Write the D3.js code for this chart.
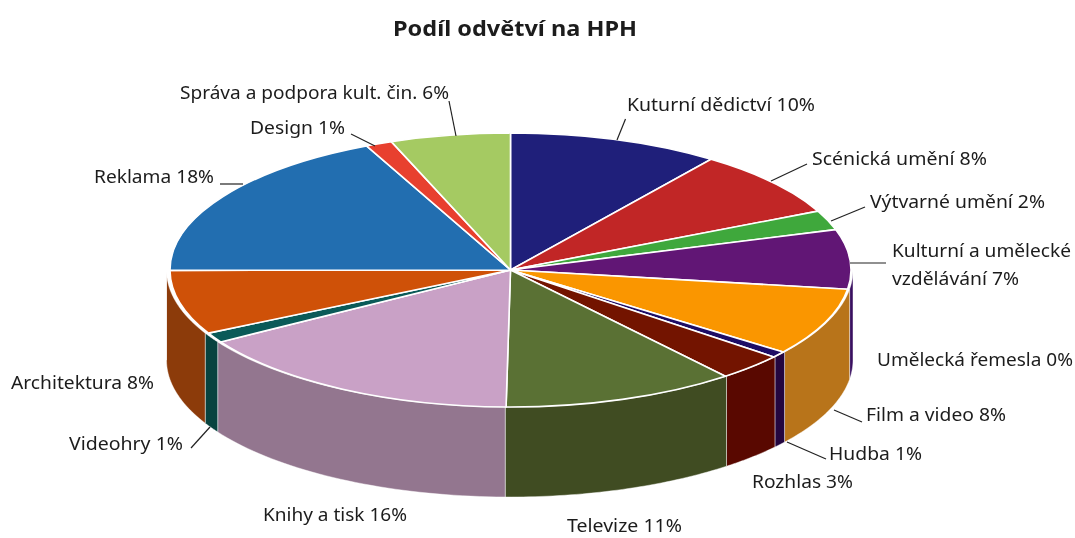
<!DOCTYPE html>
<html><head><meta charset="utf-8">
<script src="https://cdn.jsdelivr.net/npm/d3@7"></script>
<style>html,body{margin:0;background:#fff}svg{display:block;filter:blur(.45px)}text{font-family:"Noto Sans",sans-serif;fill:#1c1c1c}</style>
</head><body><svg id="c" width="1075" height="538"></svg>
<script>
const categories=["Kuturní dědictví","Scénická umění","Výtvarné umění","Kulturní a umělecké vzdělávání","Umělecká řemesla","Film a video","Hudba","Rozhlas","Televize","Knihy a tisk","Videohry","Architektura","Reklama","Design","Správa a podpora kult. čin."];
const shares=[10,7.89,2.31,7,0,7.97,0.72,3.17,11.07,15.96,1.17,7.58,18.06,1.25,5.69];
const topColors=["#1f1f7a","#c12626","#3fa83c","#611675","#fa9600","#fa9600","#1d0d66","#731400","#5a7134","#c9a1c6","#0a5a58","#cf5108","#226eb0","#e8402f","#a5ca62"];
const wallColors=["#14145a","#8a1a1a","#2a7a2a","#3a1060","#b8741a","#b8741a","#24063f","#590800","#404c22","#93768f","#08433f","#8c3b0a","#174c7c","#a02a20","#748e44"];
const titleText="Podíl odvětví na HPH";
const labelLines=[
 {t:"Kuturní dědictví 10%",x:627,y:111,w:188},
 {t:"Scénická umění 8%",x:812,y:165,w:175},
 {t:"Výtvarné umění 2%",x:870,y:208,w:175},
 {t:"Kulturní a umělecké",x:892,y:257,w:179},
 {t:"vzdělávání 7%",x:892,y:285,w:127},
 {t:"Umělecká řemesla 0%",x:877,y:366,w:196},
 {t:"Film a video 8%",x:866,y:421,w:140},
 {t:"Hudba 1%",x:829,y:460,w:93},
 {t:"Rozhlas 3%",x:752,y:488,w:101},
 {t:"Televize 11%",x:567,y:532,w:115},
 {t:"Knihy a tisk 16%",x:263,y:521,w:144},
 {t:"Videohry 1%",x:69,y:450,w:114},
 {t:"Architektura 8%",x:11,y:389,w:143},
 {t:"Reklama 18%",x:94,y:183,w:120},
 {t:"Design 1%",x:250,y:134,w:95},
 {t:"Správa a podpora kult. čin. 6%",x:180,y:99,w:269}
];
const leaders=[
 [[625.5,119],[617,140]],[[807,164],[771,181]],[[865,207],[831,221]],[[886,263],[850,263]],
 [[862,422],[834,410]],[[826,459],[787,442]],[[191,448],[210,427]],[[220,184],[243,184]],
 [[351,134],[375,146]],[[449,101],[456,136]]
];
const svg=d3.select("#c");
const topFace={x:d3.scaleLinear([-1,1],[170,851]),y:d3.scaleLinear([-1,1],[133,407])};
const wall={x:d3.scaleLinear([-1,1],[166.5,853]),y:d3.scaleLinear([-1,1],[133,407]),depth:90};
const pie=d3.pie().sort(null).value(d=>d)(shares);
const HALF=Math.PI/2, front=[HALF,3*HALF];
const line=d3.line();
const wallPath=(a0,a1)=>{
  const n=40, ts=d3.range(n+1).map(i=>a0+(a1-a0)*i/n);
  const upper=ts.map(t=>[wall.x(Math.sin(t)),wall.y(-Math.cos(t))]);
  const lower=ts.slice().reverse().map(t=>[wall.x(Math.sin(t)),wall.y(-Math.cos(t))+wall.depth]);
  return line(upper.concat(lower))+"Z";
};
const walls=pie.map((d,i)=>({i,a0:Math.max(d.startAngle,front[0]),a1:Math.min(d.endAngle,front[1])})).filter(d=>d.a1>d.a0);
svg.append("g").selectAll("path").data(walls).join("path")
  .attr("d",d=>wallPath(d.a0,d.a1)).attr("fill",d=>wallColors[d.i])
  .attr("stroke","#fff").attr("stroke-opacity",.55).attr("stroke-width",.8);
const arc=d3.arc().innerRadius(0).outerRadius(1);
const sx=(topFace.x(1)-topFace.x(-1))/2, sy=(topFace.y(1)-topFace.y(-1))/2;
svg.append("g").attr("transform",`translate(${topFace.x(0)},${topFace.y(0)}) scale(${sx},${sy})`)
  .selectAll("path").data(pie.filter(d=>d.value>0)).join("path")
  .attr("d",arc).attr("fill",d=>topColors[d.index])
  .attr("stroke","#fff").attr("stroke-width",1.6).attr("vector-effect","non-scaling-stroke").attr("stroke-linejoin","round");
svg.append("g").selectAll("line").data(leaders).join("line")
  .attr("x1",d=>d[0][0]).attr("y1",d=>d[0][1]).attr("x2",d=>d[1][0]).attr("y2",d=>d[1][1])
  .attr("stroke","#222").attr("stroke-width",1.2);
svg.append("g").selectAll("text").data(labelLines).join("text")
  .attr("x",d=>d.x).attr("y",d=>d.y).attr("font-size",18)
  .attr("textLength",d=>d.w).attr("lengthAdjust","spacingAndGlyphs").text(d=>d.t);
svg.append("text").attr("x",393).attr("y",36).attr("font-size",22).attr("font-weight",700)
  .attr("textLength",244).attr("lengthAdjust","spacingAndGlyphs").text(titleText);
</script></body></html>
